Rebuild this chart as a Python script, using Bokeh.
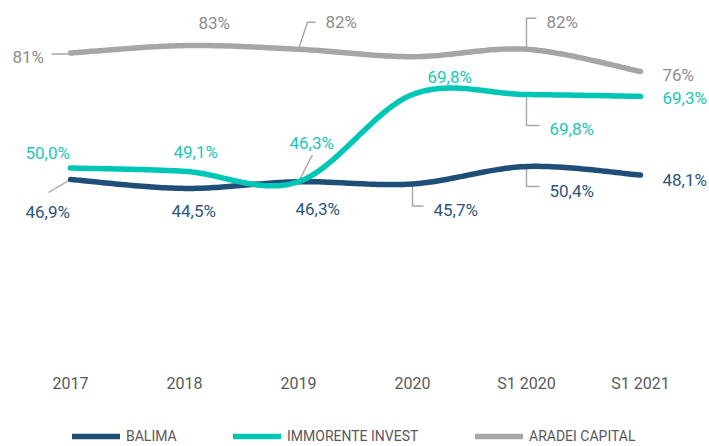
import numpy as np
from bokeh.plotting import figure
from bokeh.models import FixedTicker, Legend, LegendItem, Range1d
from bokeh.core.properties import value
from bokeh.embed import file_html
from bokeh.resources import INLINE

# ---------------- data ----------------
categories = ["2017", "2018", "2019", "2020", "S1 2020", "S1 2021"]
series_names = ["BALIMA", "IMMORENTE INVEST", "ARADEI CAPITAL"]
balima = [46.9, 44.5, 46.3, 45.7, 50.4, 48.1]
immorente = [50.0, 49.1, 46.3, 69.8, 69.8, 69.3]
aradei = [81, 83, 82, 80, 82, 76]
balima_labels = ["46,9%", "44,5%", "46,3%", "45,7%", "50,4%", "48,1%"]
immorente_labels = ["50,0%", "49,1%", "46,3%", "69,8%", "69,8%", "69,3%"]
aradei_labels = ["81%", "83%", "82%", "", "82%", "76%"]

# ---------------- styles ----------------
FONT = "Roboto"
C_BAL = "#1F4E79"
C_IMM = "#00C6B6"
C_ARA = "#A6A6A6"
T_BAL = "#2C5580"
T_IMM = "#1CC6B8"
T_ARA = "#8C8C8C"
LEADER = "#A6A6A6"

W, H = 709, 446
X_STEP = 114.0          # px per category
X_FIRST = 70.0          # px of first category from figure left
ZERO_PX = 353.0         # px of the 0 % level from the top
Y_SCALE = 3.71          # px per percent

# label offsets (px, left-aligned text, middle baseline)
bal_dx = [-45, -13, -3, 21, 23, 22]
bal_dy = [32, 23, 27, 26.5, 24, 4.5]
imm_dx = [-45, -11, -9, 15, 23, 22]
imm_dy = [-15.5, -19, -39, -18, 34, 2]
ara_dx = [-58, 14, 27, 0, 20, 22]
ara_dy = [4, -22.6, -26.8, 0, -26.8, 3]

# leader lines: (series, index, list of px offsets from the point)
leaders = [
    (aradei, 0, [(-19, 1), (0, 1)]),
    (aradei, 2, [(0, 0), (9, -27), (17, -27)]),
    (aradei, 4, [(0, 0), (0, -31), (10, -31)]),
    (immorente, 2, [(0, 0), (14, -27)]),
    (immorente, 4, [(0, 0), (0, 31), (13, 31)]),
    (balima, 0, [(0, 0), (-22, 13)]),
    (balima, 3, [(0, 0), (0, 22), (11, 22)]),
    (balima, 4, [(0, 0), (0, 20), (13, 20)]),
]

# legend placement (px from frame left, px from frame bottom)
legend_pos = [(72, 2), (233, 2), (475, 2)]

x_idx = list(range(len(categories)))

p = figure(width=W, height=H, output_backend="svg", toolbar_location=None,
           x_range=Range1d(-X_FIRST / X_STEP, (W - X_FIRST) / X_STEP),
           y_range=Range1d(-(H - ZERO_PX) / Y_SCALE, ZERO_PX / Y_SCALE),
           min_border=0)
p.outline_line_color = None
p.background_fill_color = "white"
p.border_fill_color = "white"
p.xgrid.visible = False
p.ygrid.visible = False
p.yaxis.visible = False

ax = p.xaxis[0]
ax.fixed_location = 0
ax.ticker = FixedTicker(ticks=x_idx)
ax.major_label_overrides = {i: c for i, c in enumerate(categories)}
ax.axis_line_color = None
ax.major_tick_line_color = None
ax.minor_tick_line_color = None
ax.major_tick_out = 0
ax.major_tick_in = 0
ax.major_label_standoff = 20
ax.major_label_text_font = FONT
ax.major_label_text_font_size = "16px"
ax.major_label_text_color = "#595959"


def smooth(xs, ys, n=40):
    pts = np.column_stack([xs, ys]).astype(float)
    outx, outy = [], []
    m = len(pts)
    for i in range(m - 1):
        p0 = pts[i - 1] if i > 0 else pts[i]
        p1 = pts[i]
        p2 = pts[i + 1]
        p3 = pts[i + 2] if i + 2 < m else pts[i + 1]
        c1 = p1 + (p2 - p0) / 6.0
        c2 = p2 - (p3 - p1) / 6.0
        t = np.linspace(0, 1, n)
        if i > 0:
            t = t[1:]
        b = ((1 - t) ** 3)[:, None] * p1 + (3 * (1 - t) ** 2 * t)[:, None] * c1 \
            + (3 * (1 - t) * t ** 2)[:, None] * c2 + (t ** 3)[:, None] * p2
        outx.extend(b[:, 0])
        outy.extend(b[:, 1])
    return outx, outy


# leader lines
for ser, i, offs in leaders:
    lx = [x_idx[i] + dx / X_STEP for dx, dy in offs]
    ly = [ser[i] - dy / Y_SCALE for dx, dy in offs]
    p.line(lx, ly, line_color=LEADER, line_width=1.4)

renderers = []
for ser, col in [(balima, C_BAL), (immorente, C_IMM), (aradei, C_ARA)]:
    sx, sy = smooth(x_idx, ser)
    r = p.line(sx, sy, line_color=col, line_width=5.5, line_cap="round", line_join="round")
    renderers.append(r)

# data labels
for ser, labs, dxs, dys, tc in [(balima, balima_labels, bal_dx, bal_dy, T_BAL),
                                (immorente, immorente_labels, imm_dx, imm_dy, T_IMM),
                                (aradei, aradei_labels, ara_dx, ara_dy, T_ARA)]:
    keep = [k for k in range(len(labs)) if labs[k]]
    p.text(x=[x_idx[k] for k in keep], y=[ser[k] for k in keep],
           text=[labs[k] for k in keep],
           x_offset=[dxs[k] for k in keep], y_offset=[dys[k] for k in keep],
           text_align="left", text_baseline="middle",
           text_font=value(FONT), text_font_size="17px", text_color=tc)

# legends (one per series so each sits where the reference has it)
for name, r, loc in zip(series_names, renderers, legend_pos):
    leg = Legend(items=[LegendItem(label=name, renderers=[r])],
                 location=loc, orientation="horizontal",
                 padding=0, margin=0, spacing=0, glyph_width=48, glyph_height=16,
                 label_height=16, label_standoff=6, border_line_color=None,
                 background_fill_alpha=0, label_text_font=FONT,
                 label_text_font_size="14px", label_text_color="#595959")
    p.add_layout(leg)

open("out.html", "w").write(file_html(p, INLINE))
